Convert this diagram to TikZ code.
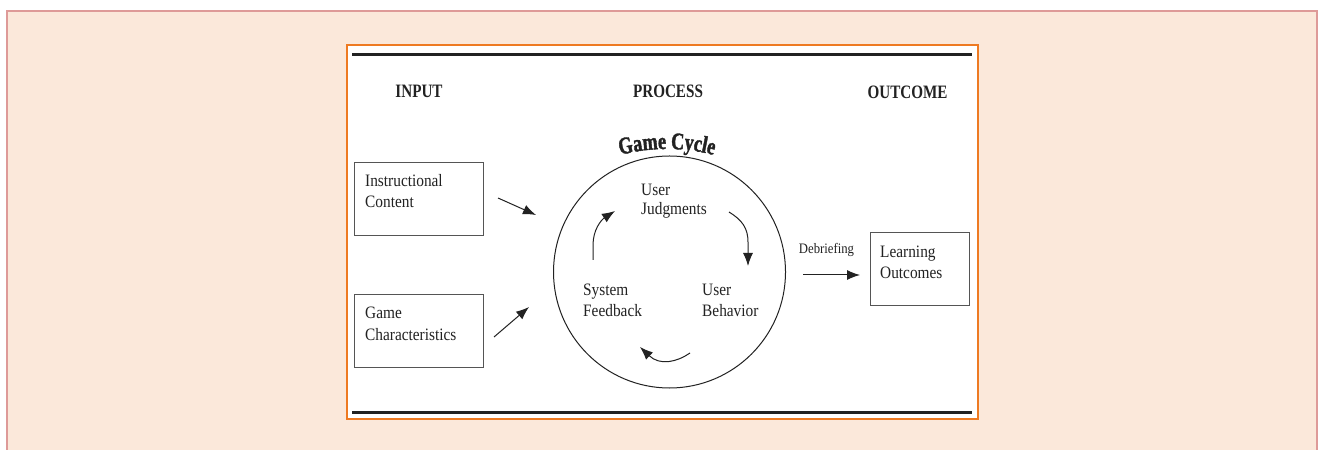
\documentclass[tikz,border=0pt]{standalone}
\usepackage{fontspec}
\setmainfont{Liberation Serif}[FakeStretch=0.88]
\newfontfamily\hdfont{Liberation Serif}[FakeStretch=0.8]
\newfontfamily\gcfont{Liberation Serif}[FakeStretch=0.76,FakeBold=1.5]
\usetikzlibrary{arrows.meta,decorations.text}
\definecolor{peach}{HTML}{FBE8DA}
\definecolor{pinkline}{HTML}{DE9A98}
\definecolor{orangeline}{HTML}{EE7A22}
\definecolor{ink}{HTML}{222222}
\definecolor{boxline}{HTML}{555555}
\tikzset{
  hdr/.style={font=\hdfont\bfseries\fontsize{19}{22}\selectfont, text=ink, inner sep=0pt, anchor=base},
  lbl/.style={font=\fontsize{17.5}{22}\selectfont, text=ink, inner sep=0pt, anchor=base west, align=left},
  inbox/.style={draw=boxline, line width=1bp, rectangle, inner sep=0pt, anchor=north west},
  arr/.style={draw=ink, line width=1bp, -{Latex[length=13bp,width=10bp]}},
  rule/.style={draw=ink, line width=3bp}
}
\begin{document}
\begin{tikzpicture}[x=1bp,y=-1bp]
\useasboundingbox (0,0) rectangle (1320,450);
% page background
\fill[peach] (6,11) rectangle (1318,450);
\draw[pinkline, line width=1.5bp] (7,450) -- (7,11) -- (1317,11) -- (1317,450);
% figure frame
\draw[orangeline, fill=white, line width=2bp] (347,45) rectangle (978,419);
\draw[rule] (352,55) -- (972,55);
\draw[rule] (352,412) -- (972,412);
% headers
\node[hdr] (hin) at (419,98) {INPUT};
\node[hdr] (hpr) at (668,98) {PROCESS};
\node[hdr] (hout) at (907.5,99) {OUTCOME};
% input boxes
\node[inbox, minimum width=129bp, minimum height=73bp] (ic) at (354,162) {};
\node[lbl] (ictext) at (365,208) {Instructional\\Content};
\node[inbox, minimum width=129bp, minimum height=73bp] (gch) at (354,294) {};
\node[lbl] (gchtext) at (365,340) {Game\\Characteristics};
% game cycle circle
\node[draw=ink, line width=1bp, circle, inner sep=0pt, minimum size=232bp] (gc) at (669.5,272) {};
\path[decorate, decoration={text along path, text align=center,
  text={|\gcfont\bfseries\fontsize{24}{24}\selectfont\color{ink}|Game Cycle}}]
  (610,158) .. controls (646,146) and (688,146) .. (724,158);
% cycle labels
\node[lbl, font=\fontsize{17.5}{20}\selectfont] (uj) at (641,215) {User\\Judgments};
\node[lbl] (sf) at (583,317) {System\\Feedback};
\node[lbl] (ub) at (702,317) {User\\Behavior};
% input arrows
\coordinate (a1s) at (498,198); \coordinate (a1e) at (536,215);
\coordinate (a2s) at (494,337); \coordinate (a2e) at (529,307);
\draw[arr] (a1s) -- (a1e);
\draw[arr] (a2s) -- (a2e);
% cycle arrows
\coordinate (c1s) at (593,260); \coordinate (c1e) at (615,211);
\coordinate (c2s) at (729,212); \coordinate (c2e) at (748,266);
\coordinate (c3s) at (690,353); \coordinate (c3e) at (640,347);
\draw[arr] (c1s) -- (593,245) .. controls (593,230) and (601,220) .. (c1e);
\draw[arr] (c2s) .. controls (742,220) and (748,228) .. (748,242) -- (c2e);
\draw[arr] (c3s) .. controls (677,362) and (660,366) .. (c3e);
% outcome
\node[lbl, font=\fontsize{14.5}{16}\selectfont, anchor=base] (deb) at (826.5,254) {Debriefing};
\node[inbox, minimum width=99bp, minimum height=73bp] (lo) at (870,232) {};
\node[lbl] (lotext) at (880,279) {Learning\\Outcomes};
\coordinate (a3s) at (803,275); \coordinate (a3e) at (860,275);
\draw[arr] (a3s) -- (a3e);
\end{tikzpicture}
\end{document}
